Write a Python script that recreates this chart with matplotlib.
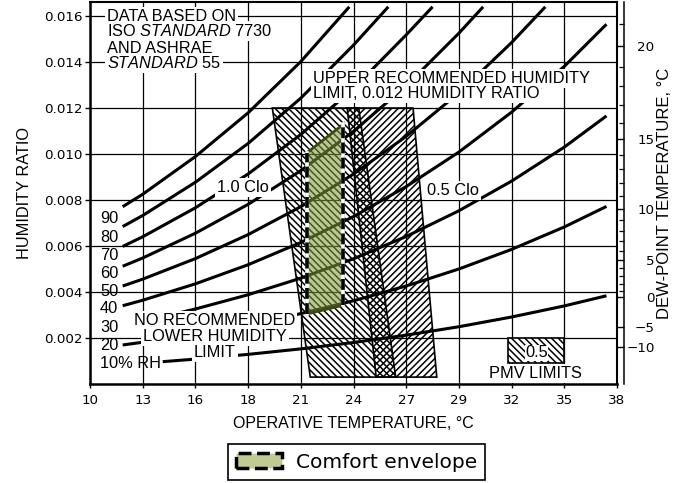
import matplotlib
matplotlib.use('Agg')
import matplotlib.pyplot as plt
from matplotlib.patches import Polygon, Rectangle, Patch

plt.rcParams['font.family'] = ['DejaVu Sans']
plt.rcParams['mathtext.fontset'] = 'custom'
plt.rcParams['mathtext.rm'] = 'Liberation Sans'
plt.rcParams['mathtext.it'] = 'Liberation Sans:italic'
plt.rcParams['hatch.linewidth'] = 1.1

# ---------------- data ----------------
# x axis is drawn in degF, labelled in degC
x_tick_f = [50, 55, 60, 65, 70, 75, 80, 85, 90, 95, 100]
x_tick_labels = ['10', '13', '16', '18', '21', '24', '27', '29', '32', '35', '38']
y_ticks = [0.002, 0.004, 0.006, 0.008, 0.010, 0.012, 0.014, 0.016]
y_tick_labels = ['0.002', '0.004', '0.006', '0.008', '0.010', '0.012', '0.014', '0.016']

# relative humidity curves (temperature degF, humidity ratio)
rh90_t = [53.1, 55, 60, 65, 70, 74.6]
rh90_w = [0.00771, 0.00825, 0.00989, 0.01179, 0.01402, 0.0164]
rh80_t = [53.1, 55, 60, 65, 70, 75, 78.3]
rh80_w = [0.006845, 0.007326, 0.008772, 0.010459, 0.012430, 0.014736, 0.0164]
rh70_t = [53.1, 55, 60, 65, 70, 75, 80, 82.5]
rh70_w = [0.005981, 0.006401, 0.007662, 0.009132, 0.010848, 0.012856, 0.015181, 0.0164]
rh60_t = [53.1, 55, 60, 65, 70, 75, 80, 85, 87.3]
rh60_w = [0.005120, 0.005478, 0.006556, 0.007811, 0.009276, 0.010986, 0.012967, 0.015253, 0.0164]
rh50_t = [53.1, 55, 60, 65, 70, 75, 80, 85, 90, 93.2]
rh50_w = [0.004260, 0.004559, 0.005453, 0.006496, 0.007710, 0.009128, 0.010768, 0.012658, 0.014847, 0.0164]
rh40_t = [53.1, 55, 60, 65, 70, 75, 80, 85, 90, 95, 99.0]
rh40_w = [0.003403, 0.003642, 0.004355, 0.005186, 0.006153, 0.007281, 0.008584, 0.010085, 0.011820, 0.013811, 0.015642]
rh30_t = [55, 60, 65, 70, 75, 80, 85, 90, 95, 99.0]
rh30_w = [0.002727, 0.003261, 0.003881, 0.004603, 0.005445, 0.006415, 0.007533, 0.008822, 0.010300, 0.011656]
rh20_t = [53.1, 55, 60, 65, 70, 75, 80, 85, 90, 95, 99.0]
rh20_w = [0.001697, 0.001815, 0.002170, 0.002582, 0.003061, 0.003619, 0.004262, 0.005001, 0.005853, 0.006828, 0.007721]
rh10_t = [56.9, 60, 65, 70, 75, 80, 85, 90, 95, 99.0]
rh10_w = [0.000971, 0.001083, 0.001288, 0.001527, 0.001804, 0.002124, 0.002490, 0.002913, 0.003395, 0.003836]

rh_labels = ['90', '80', '70', '60', '50', '40', '30', '20', '10% RH']
rh_label_w = [0.006987, 0.006187, 0.005391, 0.004622, 0.003826, 0.003074, 0.002274, 0.001478, 0.000683]

# comfort zones
clo10_t = [67.3, 75.5, 79.0, 70.9]
clo10_w = [0.0120, 0.0120, 0.0003, 0.0003]
clo05_t = [74.4, 80.65, 82.9, 77.15]
clo05_w = [0.0120, 0.0120, 0.0003, 0.0003]
envelope_t = [70.55, 74.05, 74.05, 70.55]
envelope_w = [0.01004, 0.01130, 0.00343, 0.00304]

# PMV legend box
pmv_t = [89.7, 95.0]
pmv_w = [0.00091, 0.0020]

# dew point axis
dew_labels = ['20', '15', '10', '5', '0', '\u22125', '\u221210']
dew_major_w = [0.01470, 0.01065, 0.00763, 0.00540, 0.003775, 0.002476, 0.00160]
dew_minor_w = [0.004060, 0.004364, 0.004689, 0.005034, 0.005796, 0.006213, 0.006657,
               0.007130, 0.008165, 0.008732, 0.009334, 0.009973, 0.011369, 0.012131,
               0.012938, 0.013793, 0.015656]

# ---------------- figure ----------------
fig = plt.figure(figsize=(6.99, 4.83), dpi=100)
ax = fig.add_axes([90 / 699, 99 / 483, 527 / 699, 382 / 483])
ax.set_xlim(50, 100)
ax.set_ylim(0, 0.01661)

ax.set_xticks(x_tick_f)
ax.set_xticklabels(x_tick_labels)
ax.set_yticks(y_ticks)
ax.set_yticklabels(y_tick_labels)
ax.tick_params(axis='both', labelsize=9.7, width=1.0)
ax.tick_params(axis='y', direction='out', length=3.6, pad=1.5)
ax.tick_params(axis='x', direction='out', length=3, pad=4)
ax.set_axisbelow(True)
ax.grid(True, color='black', linewidth=0.9)
for s in ['left', 'bottom']:
    ax.spines[s].set_linewidth(1.8)
for s in ['top', 'right']:
    ax.spines[s].set_linewidth(1.5)

ax.set_xlabel('OPERATIVE TEMPERATURE, \u00b0C', family='Liberation Sans', fontsize=11.5, labelpad=7)
ax.set_ylabel('HUMIDITY RATIO', family='Liberation Sans', fontsize=11.8, labelpad=9)

# comfort zones with hatching
ax.add_patch(Polygon(list(zip(clo10_t, clo10_w)), closed=True, facecolor='none',
                     edgecolor='black', hatch='\\' * 5, linewidth=1.2, zorder=1))
ax.add_patch(Polygon(list(zip(clo05_t, clo05_w)), closed=True, facecolor='none',
                     edgecolor='black', hatch='/' * 5, linewidth=1.2, zorder=1))

# RH curves
for t, w in [(rh90_t, rh90_w), (rh80_t, rh80_w), (rh70_t, rh70_w), (rh60_t, rh60_w),
             (rh50_t, rh50_w), (rh40_t, rh40_w), (rh30_t, rh30_w), (rh20_t, rh20_w),
             (rh10_t, rh10_w)]:
    ax.plot(t, w, color='black', linewidth=2.2, solid_capstyle='butt', zorder=2)

# comfort envelope
env_fill = (0.50, 0.62, 0.22, 0.55)
ax.add_patch(Polygon(list(zip(envelope_t, envelope_w)), closed=True, facecolor=env_fill,
                     edgecolor='#3b4a10', linewidth=2.0, zorder=2.6))
for i0, i1 in [(3, 0), (2, 1)]:
    ax.plot([envelope_t[i0], envelope_t[i1]], [envelope_w[i0], envelope_w[i1]],
            color='white', linewidth=2.6, zorder=2.7)
    ax.plot([envelope_t[i0], envelope_t[i1]], [envelope_w[i0], envelope_w[i1]],
            color='black', linewidth=2.6, linestyle=(0, (3, 1.2)), zorder=2.8)

# text helpers
box = dict(boxstyle='square,pad=0.12', facecolor='white', edgecolor='none')
tkw = dict(family='Liberation Sans', fontsize=11.8, va='baseline', zorder=4)

for s, w in zip(['DATA BASED ON', 'ISO $\\mathit{STANDARD}$ 7730', 'AND ASHRAE',
                 '$\\mathit{STANDARD}$ 55'], [0.01580, 0.01513, 0.01440, 0.01373]):
    ax.text(51.6, w, s, ha='left', bbox=box, **tkw)

for s, w in zip(['UPPER RECOMMENDED HUMIDITY', 'LIMIT, 0.012 HUMIDITY RATIO'],
                [0.013087, 0.012422]):
    ax.text(71.15, w, s, ha='left', bbox=box, **tkw)

ax.text(62.05, 0.00836, '1.0 Clo', ha='left', bbox=box, **tkw)
ax.text(81.95, 0.00822, '0.5 Clo', ha='left', bbox=box, **tkw)

for s, x, w in zip(['NO RECOMMENDED', 'LOWER HUMIDITY', 'LIMIT'],
                   [61.8, 61.85, 61.85], [0.002565, 0.001884, 0.001188]):
    ax.text(x, w, s, ha='center', bbox=box, **tkw)

for s, w in zip(rh_labels, rh_label_w):
    ax.text(50.95, w, s, ha='left', **tkw)

# PMV limits legend box
ax.add_patch(Rectangle((pmv_t[0], pmv_w[0]), pmv_t[1] - pmv_t[0], pmv_w[1] - pmv_w[0],
                       facecolor='white', edgecolor='black', hatch='\\' * 5,
                       linewidth=1.2, zorder=3))
ax.text(92.35, 0.00116, '0.5', ha='center',
        bbox=dict(boxstyle='square,pad=0.02', facecolor='white', edgecolor='none'), **tkw)
ax.text(92.3, 0.000248, 'PMV LIMITS', ha='center', bbox=box, **tkw)

# dew point axis
ax2 = ax.twinx()
ax2.set_ylim(ax.get_ylim())
ax2.spines['right'].set_position(('outward', 5))
ax2.spines['right'].set_linewidth(1.1)
for s in ['top', 'left', 'bottom']:
    ax2.spines[s].set_visible(False)
ax2.set_yticks(dew_major_w)
ax2.set_yticklabels(dew_labels)
ax2.set_yticks(dew_minor_w, minor=True)
ax2.tick_params(axis='y', which='major', direction='in', length=5, width=1.0,
                pad=22, labelsize=9.7)
ax2.tick_params(axis='y', which='minor', direction='in', length=3.6, width=0.9)
for lab in ax2.get_yticklabels():
    lab.set_horizontalalignment('right')
ax2.set_ylabel('DEW-POINT TEMPERATURE, \u00b0C', family='Liberation Sans', fontsize=12,
               labelpad=2)

# legend
handle = Patch(facecolor='#bfcb92', edgecolor='black', linestyle='--', linewidth=2.5)
leg = fig.legend(handles=[handle], labels=['Comfort envelope'], loc='center',
                 bbox_to_anchor=(356.5 / 699, 1 - 462 / 483), frameon=True,
                 fancybox=False, edgecolor='black', framealpha=1,
                 prop={'family': 'DejaVu Sans', 'size': 14.5},
                 handlelength=2.3, handleheight=0.8, handletextpad=0.7,
                 borderpad=0.4, borderaxespad=0)
leg.get_frame().set_linewidth(1.2)

fig.savefig('out.png', dpi=100)
